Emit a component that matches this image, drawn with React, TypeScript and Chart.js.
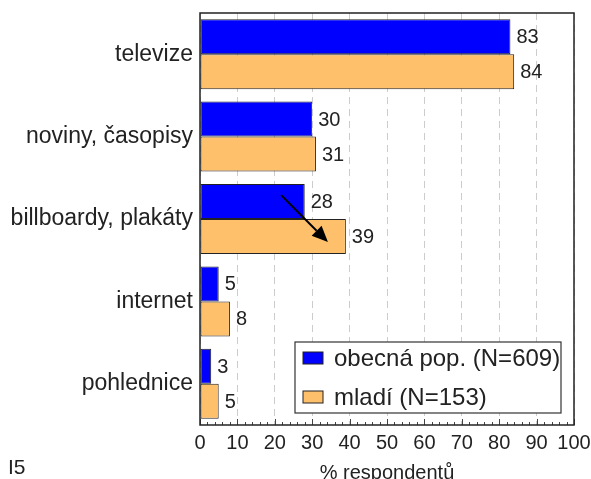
import React, { useEffect, useRef } from 'react';
import { Chart, registerables } from 'chart.js';

Chart.register(...registerables);

const categories = ['televize', 'noviny, časopisy', 'billboardy, plakáty', 'internet', 'pohlednice'];
const generalPop = [83, 30, 28, 5, 3];
const youth = [84, 31, 39, 8, 5];
const seriesLabels = ['obecná pop. (N=609)', 'mladí (N=153)'];
const xMin = 0;
const xMax = 100;
const xStep = 10;
const minorStep = 2;
const axisTitle = '% respondentů';
const cornerLabel = 'I5';
// arrow annotation in data units: x values, and offsets (in category bands) from the category centre
const arrowCategory = 2;
const arrowFrom = { x: 21.7, offset: -0.29 };
const arrowTo = { x: 34.2, offset: 0.28 };

const FONT = "'Liberation Sans', Arial, sans-serif";
const TEXT = '#222222';
const BLUE = '#0000ff';
const ORANGE = '#ffc06c';

const overlayPlugin = {
  id: 'overlay',
  afterDatasetsDraw(chart: any) {
    const { ctx, chartArea, scales } = chart;
    const xs = scales.x;
    const ys = scales.y;
    ctx.save();

    // value labels
    ctx.fillStyle = TEXT;
    ctx.font = `20px ${FONT}`;
    ctx.textAlign = 'left';
    ctx.textBaseline = 'middle';
    chart.data.datasets.forEach((ds: any, di: number) => {
      const meta = chart.getDatasetMeta(di);
      meta.data.forEach((bar: any, i: number) => {
        ctx.fillText(String(ds.data[i]), bar.x + 6, bar.y + 1);
      });
    });

    // arrow
    const band = ys.getPixelForValue(1) - ys.getPixelForValue(0);
    const cy = ys.getPixelForValue(arrowCategory);
    const x1 = xs.getPixelForValue(arrowFrom.x);
    const y1 = cy + arrowFrom.offset * band;
    const x2 = xs.getPixelForValue(arrowTo.x);
    const y2 = cy + arrowTo.offset * band;
    const ang = Math.atan2(y2 - y1, x2 - x1);
    const headLen = 16;
    const headW = 7;
    const bx = x2 - headLen * Math.cos(ang);
    const by = y2 - headLen * Math.sin(ang);
    ctx.strokeStyle = '#000';
    ctx.lineWidth = 2;
    ctx.beginPath();
    ctx.moveTo(x1, y1);
    ctx.lineTo(bx, by);
    ctx.stroke();
    ctx.fillStyle = '#000';
    ctx.beginPath();
    ctx.moveTo(x2, y2);
    ctx.lineTo(bx + headW * Math.sin(ang), by - headW * Math.cos(ang));
    ctx.lineTo(bx - headW * Math.sin(ang), by + headW * Math.cos(ang));
    ctx.closePath();
    ctx.fill();

    // minor/major ticks on bottom edge (inward)
    ctx.strokeStyle = '#444';
    ctx.lineWidth = 1;
    for (let v = xMin; v <= xMax; v += minorStep) {
      const px = Math.round(xs.getPixelForValue(v)) + 0.5;
      const len = v % xStep === 0 ? 6 : 3;
      ctx.beginPath();
      ctx.moveTo(px, chartArea.bottom);
      ctx.lineTo(px, chartArea.bottom - len);
      ctx.stroke();
    }

    // frame
    ctx.strokeStyle = '#222';
    ctx.lineWidth = 1.5;
    ctx.strokeRect(chartArea.left, chartArea.top, chartArea.right - chartArea.left, chartArea.bottom - chartArea.top);

    // legend box
    const lw = 266;
    const lh = 71;
    const lx = chartArea.right - 13 - lw;
    const ly = chartArea.bottom - 12 - lh;
    ctx.fillStyle = '#fff';
    ctx.fillRect(lx, ly, lw, lh);
    ctx.strokeStyle = '#333';
    ctx.lineWidth = 1.2;
    ctx.strokeRect(lx, ly, lw, lh);
    const colors = [BLUE, ORANGE];
    ctx.font = `24px ${FONT}`;
    ctx.textBaseline = 'middle';
    ctx.textAlign = 'left';
    seriesLabels.forEach((lab, i) => {
      const rowY = ly + 16 + i * 39;
      ctx.fillStyle = colors[i];
      ctx.fillRect(lx + 8, rowY - 6, 20, 12);
      ctx.strokeStyle = '#222';
      ctx.lineWidth = 1;
      ctx.strokeRect(lx + 8, rowY - 6, 20, 12);
      ctx.fillStyle = TEXT;
      ctx.fillText(lab, lx + 39, rowY + 1);
    });

    // axis title and corner label
    ctx.fillStyle = TEXT;
    ctx.font = `20px ${FONT}`;
    ctx.textAlign = 'center';
    ctx.textBaseline = 'alphabetic';
    ctx.fillText(axisTitle, (chartArea.left + chartArea.right) / 2, chart.height + 0);
    ctx.font = `21px ${FONT}`;
    ctx.textAlign = 'left';
    ctx.fillText(cornerLabel, 8, chart.height - 5);

    ctx.restore();
  },
};

export default function App() {
  const canvasRef = useRef<HTMLCanvasElement | null>(null);

  useEffect(() => {
    if (!canvasRef.current) return;
    const chart = new Chart(canvasRef.current, {
      type: 'bar',
      data: {
        labels: categories,
        datasets: [
          {
            label: seriesLabels[0],
            data: generalPop,
            backgroundColor: BLUE,
            borderColor: '#222',
            borderWidth: 1,
            borderSkipped: false,
            categoryPercentage: 0.85,
            barPercentage: 1.0,
          },
          {
            label: seriesLabels[1],
            data: youth,
            backgroundColor: ORANGE,
            borderColor: '#222',
            borderWidth: 1,
            borderSkipped: false,
            categoryPercentage: 0.85,
            barPercentage: 1.0,
          },
        ],
      },
      options: {
        indexAxis: 'y',
        animation: false,
        responsive: true,
        maintainAspectRatio: false,
        layout: { padding: { top: 13, right: 17, left: 0, bottom: 0 } },
        plugins: {
          legend: { display: false },
          tooltip: { enabled: false },
        },
        scales: {
          x: {
            type: 'linear',
            min: xMin,
            max: xMax,
            ticks: {
              stepSize: xStep,
              color: TEXT,
              font: { family: FONT, size: 20 },
              padding: 6,
              maxRotation: 0,
              minRotation: 0,
              autoSkip: false,
            },
            grid: {
              color: '#cccccc',
              lineWidth: 1,
              drawTicks: false,
            },
            border: { display: false, dash: [7, 5] },
            afterFit(scale: any) {
              scale.height = 54;
              scale.paddingRight = 0;
              scale.paddingLeft = 0;
            },
          },
          y: {
            type: 'category',
            ticks: {
              color: TEXT,
              font: { family: FONT, size: 23 },
              padding: 7,
            },
            grid: { display: false, drawTicks: false },
            border: { display: false },
            afterFit(scale: any) {
              scale.width = 200;
              scale.paddingTop = 0;
              scale.paddingBottom = 0;
            },
          },
        },
      } as any,
      plugins: [overlayPlugin],
    });
    return () => chart.destroy();
  }, []);

  return (
    <div style={{ position: 'fixed', left: 0, top: 0, width: 591, height: 479, background: '#fff' }}>
      <canvas ref={canvasRef} />
    </div>
  );
}
